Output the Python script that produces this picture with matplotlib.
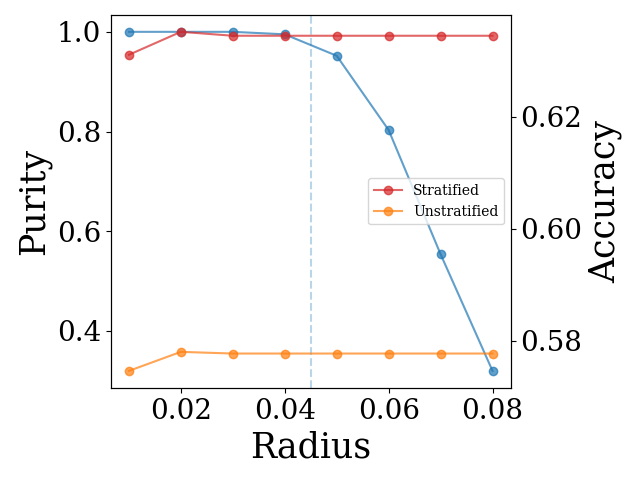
import matplotlib
matplotlib.use("Agg")
import matplotlib.pyplot as plt

plt.rcParams['font.family'] = ['DejaVu Serif']

radius = [0.01, 0.02, 0.03, 0.04, 0.05, 0.06, 0.07, 0.08]
purity = [1.0, 1.0, 1.0, 0.995, 0.952, 0.803, 0.554, 0.320]
acc_strat = [0.6311, 0.6352, 0.6345, 0.6345, 0.6345, 0.6345, 0.6345, 0.6345]
acc_unstrat = [0.5746, 0.5780, 0.5777, 0.5777, 0.5777, 0.5777, 0.5777, 0.5777]
vline_x = 0.045

fig, ax = plt.subplots(figsize=(6.4, 4.8), dpi=100)
ax.plot(radius, purity, marker='o', color='tab:blue', alpha=0.7)
ax.axvline(vline_x, color='tab:blue', alpha=0.3, linestyle='--')
ax.set_xlabel('Radius', fontsize=25)
ax.set_ylabel('Purity', fontsize=25)
ax.tick_params(labelsize=20)

ax2 = ax.twinx()
ax2.plot(radius, acc_strat, marker='o', color='tab:red', alpha=0.7, label='Stratified')
ax2.plot(radius, acc_unstrat, marker='o', color='tab:orange', alpha=0.7, label='Unstratified')
ax2.set_ylabel('Accuracy', fontsize=25)
ax2.tick_params(labelsize=20)
ax2.legend(loc='center right', fontsize=10)

fig.subplots_adjust(left=0.173, right=0.798, top=0.969, bottom=0.192)
fig.savefig('out.png')
